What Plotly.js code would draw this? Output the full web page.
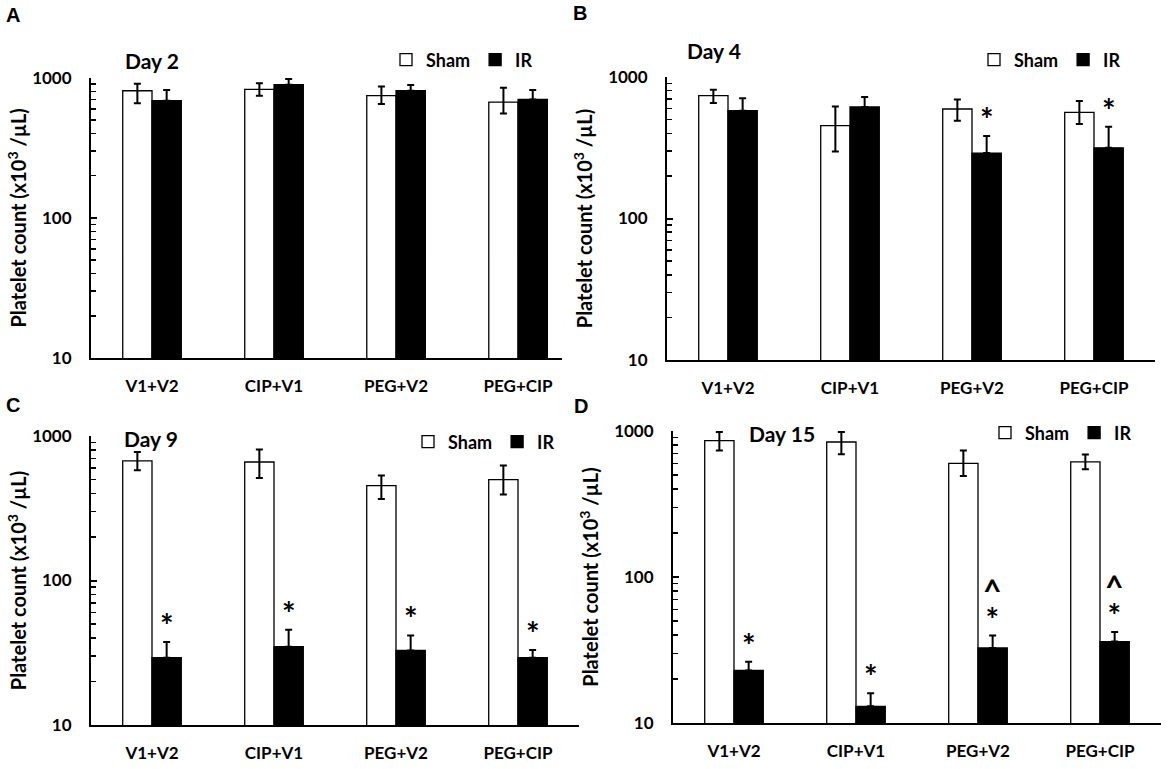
<!DOCTYPE html>
<html>
<head>
<meta charset="utf-8">
<script src="https://cdn.plot.ly/plotly-3.0.1.min.js"></script>
<style>
  html, body { margin: 0; padding: 0; background: #fff; }
  #graph { width: 1170px; height: 769px; }
</style>
</head>
<body>
<div id="graph"></div>
<script>
// groups on the x axis
const categories = ['V1+V2', 'CIP+V1', 'PEG+V2', 'PEG+CIP'];

// Day 2
const day2Sham = [807, 826, 744, 670];
const day2ShamUp = [99, 85, 122, 178];
const day2ShamDown = [151, 82, 95, 114];
const day2IR = [685, 891, 807, 700];
const day2IRUp = [131, 87, 80, 116];
const day2Marks = ['', '', '', ''];

// Day 4
const day4Sham = [738, 453, 594, 563];
const day4ShamUp = [75, 167, 98, 114];
const day4ShamDown = [84, 155, 103, 98];
const day4IR = [578, 614, 290, 316];
const day4IRUp = [129, 108, 93, 129];
const day4Marks = ['', '', '*', '*'];

// Day 9
const day9Sham = [672, 661, 454, 499];
const day9ShamUp = [102, 144, 78, 125];
const day9ShamDown = [93, 148, 87, 106];
const day9IR = [29.2, 34.8, 32.8, 29.2];
const day9IRUp = [8.3, 10.8, 8.9, 3.8];
const day9Marks = ['*', '*', '*', '*'];

// Day 15
const day15Sham = [859, 841, 601, 614];
const day15ShamUp = [126, 144, 133, 75];
const day15ShamDown = [125, 148, 109, 67];
const day15IR = [22.9, 13.0, 32.7, 36.1];
const day15IRUp = [3.4, 3.0, 7.0, 5.9];
const day15Marks = ['*', '*', '^<br>*', '^<br>*'];

const panelTitles = ['Day 2', 'Day 4', 'Day 9', 'Day 15'];
const panelLetters = ['A', 'B', 'C', 'D'];

document.addEventListener('DOMContentLoaded', function(event)
{
  displayPlot('graph');
});

function displayPlot(divPlot)
{
  const fontFamily = 'Lato, "Open Sans", sans-serif';
  const bargap = 0.52;
  // IR bar sits right of the group centre
  const irOffset = (1 - bargap) / 4;

  const panels = [
    { sham: day2Sham, shamUp: day2ShamUp, shamDown: day2ShamDown, ir: day2IR, irUp: day2IRUp, marks: day2Marks },
    { sham: day4Sham, shamUp: day4ShamUp, shamDown: day4ShamDown, ir: day4IR, irUp: day4IRUp, marks: day4Marks },
    { sham: day9Sham, shamUp: day9ShamUp, shamDown: day9ShamDown, ir: day9IR, irUp: day9IRUp, marks: day9Marks },
    { sham: day15Sham, shamUp: day15ShamUp, shamDown: day15ShamDown, ir: day15IR, irUp: day15IRUp, marks: day15Marks }
  ];

  // pixel geometry of each panel (left, right, y of 1000, y of 10)
  const boxes = [
    { x0: 91, x1: 562, xEnd: 3.36, top: 77.7, bottom: 358, standoff: 0 },
    { x0: 667, x1: 1155, xEnd: 3.5, top: 77, bottom: 360, standoff: 10 },
    { x0: 91, x1: 579, xEnd: 3.5, top: 436, bottom: 725, standoff: 0 },
    { x0: 673, x1: 1161, xEnd: 3.5, top: 431, bottom: 723, standoff: 10 }
  ];
  const titlePos = [[123, 60], [685, 50], [122, 439], [747, 434]];
  const letterPos = [[4, 15], [571, 13], [4, 405], [572, 406]];
  const legendPos = [[386, 60], [974, 60], [408, 442], [985, 433]];

  const W = 1170;
  const H = 769;

  let plotData = [];
  let annotations = [];

  let layout =
  {
    width: W,
    height: H,
    margin: { l: 0, r: 0, t: 0, b: 0 },
    paper_bgcolor: 'white',
    plot_bgcolor: 'white',
    barmode: 'group',
    bargap: bargap,
    bargroupgap: 0,
    font: { family: fontFamily, color: 'black', size: 16 },
    showlegend: true
  };

  panels.forEach(function(p, k)
  {
    const suffix = k === 0 ? '' : String(k + 1);
    const legendId = 'legend' + suffix;
    const box = boxes[k];

    plotData.push({
      type: 'bar',
      name: 'Sham',
      x: categories,
      y: p.sham,
      xaxis: 'x' + suffix,
      yaxis: 'y' + suffix,
      legend: legendId,
      marker: { color: 'white', line: { color: 'black', width: 1.3 } },
      error_y: {
        type: 'data', symmetric: false,
        array: p.shamUp, arrayminus: p.shamDown,
        color: 'black', thickness: 2, width: 3.5
      },
      hoverinfo: 'y'
    });

    plotData.push({
      type: 'bar',
      name: 'IR',
      x: categories,
      y: p.ir,
      xaxis: 'x' + suffix,
      yaxis: 'y' + suffix,
      legend: legendId,
      marker: { color: 'black', line: { color: 'black', width: 1.3 } },
      error_y: {
        type: 'data', symmetric: false,
        array: p.irUp, arrayminus: p.irUp.map(function() { return 0; }),
        color: 'black', thickness: 2, width: 3.5
      },
      hoverinfo: 'y'
    });

    layout['xaxis' + suffix] = {
      domain: [box.x0 / W, box.x1 / W],
      anchor: 'y' + suffix,
      type: 'category',
      range: [-0.5, box.xEnd],
      showline: true,
      linecolor: 'black',
      linewidth: 2,
      ticks: '',
      ticklabelstandoff: 12,
      showgrid: false,
      zeroline: false,
      fixedrange: true,
      tickfont: { family: fontFamily, size: 17, weight: 'bold', color: 'black' }
    };

    layout['yaxis' + suffix] = {
      domain: [1 - box.bottom / H, 1 - box.top / H],
      anchor: 'x' + suffix,
      type: 'log',
      range: [1, 3],
      dtick: 1,
      showline: true,
      linecolor: 'black',
      linewidth: 2,
      ticks: 'inside',
      ticklen: 6,
      tickwidth: 2,
      tickcolor: 'black',
      minor: { ticks: 'inside', ticklen: 5, tickwidth: 1.5, tickcolor: 'black', showgrid: false },
      ticklabelstandoff: 14,
      showgrid: false,
      zeroline: false,
      fixedrange: true,
      tickfont: { family: fontFamily, size: 17, weight: 'bold', color: 'black' },
      title: {
        text: 'Platelet count (x10<sup>3</sup> /µL)',
        font: { family: fontFamily, size: 20, weight: 'bold', color: 'black' },
        standoff: box.standoff
      }
    };

    layout[legendId] = {
      orientation: 'h',
      x: legendPos[k][0] / W,
      y: 1 - legendPos[k][1] / H,
      xanchor: 'left',
      yanchor: 'middle',
      bgcolor: 'rgba(0,0,0,0)',
      itemclick: false,
      itemdoubleclick: false,
      font: { family: fontFamily, size: 18, weight: 'bold', color: 'black' }
    };

    // day title
    annotations.push({
      xref: 'paper', yref: 'paper',
      x: titlePos[k][0] / W, y: 1 - titlePos[k][1] / H,
      xanchor: 'left', yanchor: 'middle',
      text: panelTitles[k],
      showarrow: false,
      font: { family: fontFamily, size: 21, weight: 'bold', color: 'black' }
    });

    // panel letter
    annotations.push({
      xref: 'paper', yref: 'paper',
      x: letterPos[k][0] / W, y: 1 - letterPos[k][1] / H,
      xanchor: 'left', yanchor: 'middle',
      text: panelLetters[k],
      showarrow: false,
      font: { family: '"Liberation Sans", Arial, sans-serif', size: 20, weight: 'bold', color: 'black' }
    });

    // significance marks above the IR bars (glyphs enlarged, line spacing kept tight)
    p.marks.forEach(function(mark, i)
    {
      if (!mark) return;
      const text = mark.split('<br>').map(function(line)
      {
        return '<span style="font-size:32px">' + line + '</span>';
      }).join('<br>');
      annotations.push({
        xref: 'x' + suffix, yref: 'y' + suffix,
        x: i + irOffset,
        y: Math.log10(p.ir[i] + p.irUp[i]),
        xanchor: 'center', yanchor: 'bottom',
        yshift: -5,
        text: text,
        showarrow: false,
        font: { family: fontFamily, size: 22, weight: 'bold', color: 'black' }
      });
    });
  });

  layout.annotations = annotations;

  Plotly.newPlot(divPlot, plotData, layout, { displayModeBar: false, staticPlot: true });
}
</script>
</body>
</html>
